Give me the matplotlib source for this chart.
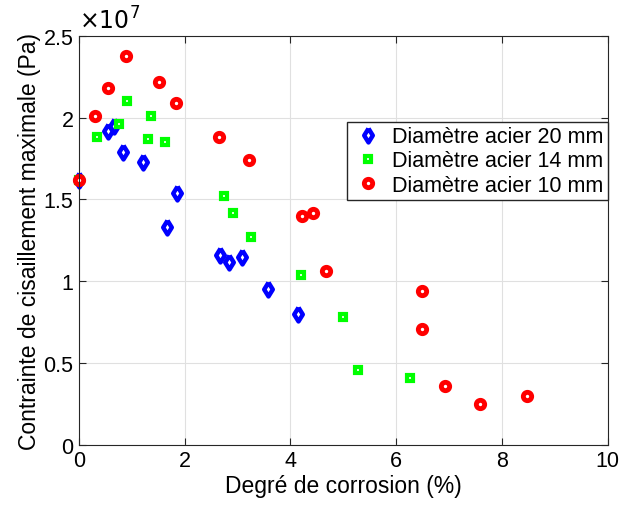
import numpy as np
import matplotlib.pyplot as plt

plt.rcParams['font.family'] = ['Liberation Sans', 'DejaVu Sans']

# Diamètre acier 20 mm
x20 = [0.0, 0.55, 0.66, 0.83, 1.21, 1.66, 1.85, 2.66, 2.83, 3.08, 3.58, 4.15]
y20 = [1.62, 1.92, 1.95, 1.79, 1.73, 1.33, 1.54, 1.16, 1.12, 1.15, 0.95, 0.80]
# Diamètre acier 14 mm
x14 = [0.0, 0.34, 0.75, 0.91, 1.30, 1.36, 1.62, 2.74, 2.92, 3.26, 4.19, 5.00, 5.28, 6.26]
y14 = [1.62, 1.88, 1.96, 2.10, 1.87, 2.01, 1.85, 1.52, 1.42, 1.27, 1.04, 0.78, 0.46, 0.41]
# Diamètre acier 10 mm
x10 = [0.0, 0.30, 0.55, 0.89, 1.51, 1.83, 2.64, 3.21, 4.21, 4.42, 4.68, 6.49, 6.49, 6.92, 7.58, 8.47]
y10 = [1.62, 2.01, 2.18, 2.38, 2.22, 2.09, 1.88, 1.74, 1.40, 1.42, 1.06, 0.94, 0.71, 0.36, 0.25, 0.30]

# matlab-like diamond
diamond = [(0, 1), (0.62, 0), (0, -1), (-0.62, 0), (0, 1)]

fig = plt.figure(figsize=(6.22, 5.06), dpi=100)
ax = fig.add_axes([0.127, 0.119, 0.85, 0.808])

ax.plot(x20, y20, marker=diamond, linestyle='none', color='blue', markerfacecolor='white',
        markersize=10, markeredgewidth=3.2, clip_on=False, label='Diamètre acier 20 mm')
ax.plot(x14, y14, 's', color='#00ff00', markerfacecolor='white', markersize=4.2,
        markeredgewidth=3, clip_on=False, label='Diamètre acier 14 mm')
ax.plot(x10, y10, 'o', color='red', markerfacecolor='white', markersize=6,
        markeredgewidth=3.5, clip_on=False, label='Diamètre acier 10 mm')

ax.set_xlim(0, 10)
ax.set_ylim(0, 2.5)
ax.set_xticks([0, 2, 4, 6, 8, 10])
ax.set_yticks([0, 0.5, 1, 1.5, 2, 2.5])
ax.set_yticklabels(['0', '0.5', '1', '1.5', '2', '2.5'])
ax.grid(True, color='#e0e0e0', linewidth=0.8)
ax.set_axisbelow(True)
ax.tick_params(direction='in', top=True, right=True, labelsize=15.5, length=5,
               color='#262626', pad=4)
for s in ax.spines.values():
    s.set_color('#262626')

ax.set_xlabel('Degré de corrosion (%)', fontsize=16.5, labelpad=2)
ax.set_ylabel('Contrainte de cisaillement maximale (Pa)', fontsize=16.5, labelpad=2)
ax.text(0.0, 1.005, r'$\times10^{7}$', transform=ax.transAxes, fontsize=17, va='bottom')

ax.legend(loc='upper right', bbox_to_anchor=(1.0, 0.79), fontsize=15.5, handletextpad=0.3,
          borderpad=0.2, labelspacing=0.15, fancybox=False, edgecolor='#262626',
          framealpha=1, handlelength=1.6, borderaxespad=0.0)

fig.savefig('out.png', dpi=100)
